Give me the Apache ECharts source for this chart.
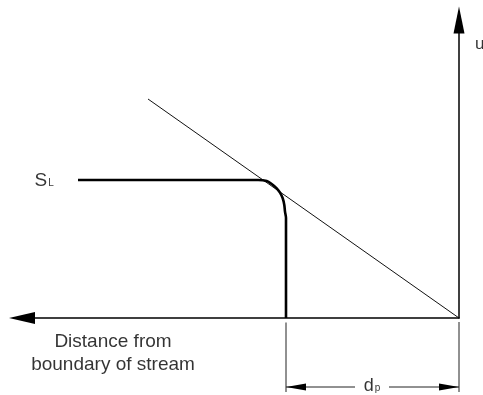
<!DOCTYPE html>
<html>
<head>
<meta charset="utf-8">
<script src="https://cdn.jsdelivr.net/npm/echarts@6/dist/echarts.min.js"></script>
<style>
  html, body { margin: 0; padding: 0; background: #fff; }
  #chart { width: 483px; height: 395px; }
</style>
</head>
<body>
<div id="chart"></div>
<script>
// Velocity u against distance from the boundary of the stream.
// Distance grows to the left, the boundary sits at the origin.

// Profile: flat at S_L far from the boundary, bending down to zero at d_p.
const profileDist = [38.1, 20.1, 19.23, 18.73, 18.23, 17.9, 17.63, 17.47, 17.4, 17.3, 17.3];
const profileU    = [13.8, 13.8, 13.7, 13.4, 12.97, 12.53, 11.97, 11.3, 10.63, 10.0, 0];

// Straight line from the boundary that touches the profile's corner.
const tangentDist = [0, 31.1];
const tangentU    = [0, 21.9];

const dpValue = 17.3;   // penetration distance d_p
const slValue = 13.8;   // level S_L

const labelTexts = {
  sl: '{s|S}{sub|L}',
  u: '{u|u}',
  dist: 'Distance from\nboundary of stream',
  dp: '{d|d}{sub|p}'
};

const FONT = '"Liberation Sans", Arial, Helvetica, sans-serif';
const INK = '#000';

// Dimension line for d_p, drawn below the distance axis.
const dimY = -6.9, extTop = -0.45, extBottom = -7.4;
const dimGapLeft = 10.4, dimGapRight = 7.0;

const zip = (xs, ys) => xs.map((x, i) => [x, ys[i]]);

const chart = echarts.init(document.getElementById('chart'), null, { renderer: 'canvas' });

// thin helper line drawn outside the plotting area
function guide(name, points, z) {
  return {
    name, type: 'line', data: points, clip: false, silent: true, z: z || 2,
    symbol: 'none', showSymbol: true, animation: false,
    lineStyle: { color: '#222', width: 1 }
  };
}

// arrow tip data item (triangle pointing left or right, tip on the point)
function tip(x, y, dir) {
  return {
    value: [x, y], symbol: 'triangle', symbolSize: [7, 20],
    symbolRotate: dir === 'left' ? 90 : -90,
    symbolOffset: [dir === 'left' ? 10 : -10, 0],
    itemStyle: { color: '#000' }
  };
}

chart.setOption({
  animation: false,
  backgroundColor: '#fff',
  grid: { left: 22, right: 24, top: 20, bottom: 77, outerBoundsMode: 'none' },
  xAxis: {
    type: 'value', min: 0, max: 43.7, inverse: true, position: 'bottom',
    axisLine: { show: true, onZero: false, symbol: ['triangle', 'none'], symbolSize: [12, 26],
                lineStyle: { color: INK, width: 1.5 } },
    axisTick: { show: false }, axisLabel: { show: false }, splitLine: { show: false }
  },
  yAxis: {
    type: 'value', min: 0, max: 29.8, position: 'right',
    axisLine: { show: true, onZero: false, symbol: ['none', 'triangle'], symbolSize: [11, 27],
                lineStyle: { color: INK, width: 1.5 } },
    axisTick: { show: false }, axisLabel: { show: false }, splitLine: { show: false }
  },
  series: [
    {
      name: 'tangent', type: 'line', data: zip(tangentDist, tangentU),
      symbol: 'none', silent: true, z: 2,
      lineStyle: { color: '#111', width: 1 }
    },
    {
      name: 'profile', type: 'line', data: zip(profileDist, profileU),
      symbol: 'none', silent: true, z: 3, smooth: 0.3,
      lineStyle: { color: INK, width: 2.6, join: 'round' }
    },
    // extension lines for the d_p dimension
    guide('ext-dp', [[dpValue, extTop], [dpValue, extBottom]]),
    guide('ext-origin', [[0, extTop + 0.05], [0, extBottom]]),
    // dimension arrows
    guide('dim-left', [[dimGapLeft, dimY], tip(dpValue, dimY, 'left')], 3),
    guide('dim-right', [[dimGapRight, dimY], tip(0, dimY, 'right')], 3),
    {
      name: 'annotations', type: 'scatter', clip: false, silent: true, z: 4,
      symbol: 'circle', symbolSize: 1, itemStyle: { color: 'rgba(0,0,0,0)' },
      data: [
        { value: [42.5, slValue], label: { position: 'right', formatter: labelTexts.sl } },
        { value: [-1.55, 27.4], label: { position: 'right', formatter: labelTexts.u } },
        { value: [34.6, -3.55], label: { position: 'inside', align: 'center', formatter: labelTexts.dist,
                                          fontSize: 19, lineHeight: 23 } },
        { value: [(dimGapLeft + dimGapRight) / 2, dimY + 0.1], label: { position: 'inside', align: 'center', formatter: labelTexts.dp } }
      ],
      label: {
        show: true, distance: 0, color: INK, fontFamily: FONT, fontSize: 19,
        rich: {
          s:   { fontFamily: FONT, fontSize: 19, color: INK, verticalAlign: 'bottom', lineHeight: 20 },
          u:   { fontFamily: FONT, fontSize: 17, color: INK },
          d:   { fontFamily: FONT, fontSize: 18, color: INK, verticalAlign: 'bottom', lineHeight: 19 },
          sub: { fontFamily: FONT, fontSize: 10, color: INK, verticalAlign: 'bottom', lineHeight: 11, padding: [0, 0, 2, 1] }
        }
      }
    }
  ]
});
</script>
</body>
</html>
